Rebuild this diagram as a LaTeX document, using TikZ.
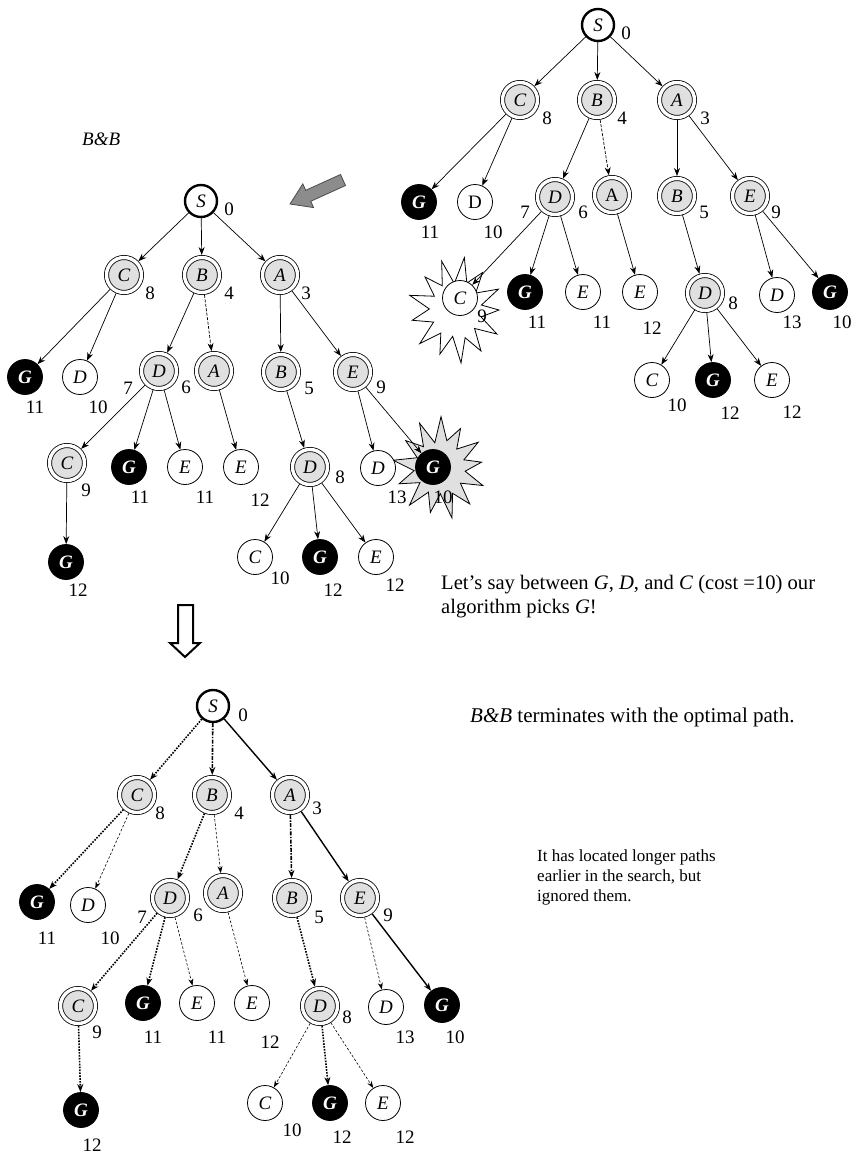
\documentclass[tikz,border=0pt]{standalone}
\usepackage{fontspec}
\setmainfont{Liberation Serif}
\usetikzlibrary{arrows.meta}
\begin{document}
\begin{tikzpicture}[x=1pt,y=-1pt,
  base/.style={circle,inner sep=0pt,minimum size=35pt,font=\fontsize{19}{19}\selectfont\itshape},
  wn/.style={base,draw,line width=0.8pt,fill=white},
  wnu/.style={wn,font=\fontsize{19}{19}\selectfont\upshape},
  bn/.style={base,draw,line width=0.8pt,fill=black,text=white,font=\fontsize{19}{19}\selectfont\bfseries\itshape},
  dn/.style={base,draw,line width=0.8pt,fill=black!12,double=white,double distance=3.4pt,minimum size=35pt,outer sep=2.5pt},
  dnu/.style={dn,font=\fontsize{19}{19}\selectfont\upshape},
  sn/.style={base,draw,line width=2.4pt,fill=white,minimum size=32pt},
  lab/.style={inner sep=0pt,font=\fontsize{19}{19}\selectfont},
  ed/.style={-{Stealth[length=8pt,width=6pt]},line width=0.7pt},
  edd/.style={ed,dash pattern=on 3pt off 1.5pt},
  thdot/.style={-{Stealth[length=8pt,width=6pt]},line width=1.6pt,dash pattern=on 1.6pt off 1.3pt},
  thdd/.style={-{Stealth[length=8pt,width=6pt]},line width=1.6pt,dash pattern=on 4pt off 1.4pt on 1.4pt off 1.4pt},
  thin/.style={-{Stealth[length=7pt,width=5pt]},line width=0.6pt,dash pattern=on 2.5pt off 1.8pt},
  thsol/.style={-{Stealth[length=8pt,width=6pt]},line width=1.4pt},
  txt/.style={inner sep=0pt,anchor=base west,font=\fontsize{20.6}{24}\selectfont},
  burst/.style={draw,line width=0.8pt,line join=miter}
]
\useasboundingbox (0,0) rectangle (856,1154);
\def\burstpath{(0:50) -- (14:30) -- (28:54) -- (42:29) -- (56:52) -- (70:31) -- (84:56) -- (98:28) -- (112:50) -- (126:30) -- (140:55) -- (154:29) -- (168:52) -- (182:31) -- (196:56) -- (210:29) -- (224:50) -- (238:30) -- (252:54) -- (266:28) -- (280:56) -- (294:31) -- (308:50) -- (322:29) -- (336:54) -- (350:30) -- cycle}

% ---------------- Tree 1 (top right) ----------------
\draw[burst,fill=white,shift={(456,310)},xscale=0.86,yscale=0.95] \burstpath;
\node[sn] (a S) at (598,25) {S};   \node[lab] (a l0) at (626,33) {0};
\node[dn] (a C) at (520,100) {C};  \node[lab] (a l8) at (547,118) {8};
\node[dn] (a B) at (597,100) {B};  \node[lab] (a l4) at (622,118) {4};
\node[dn] (a A) at (677,100) {A};  \node[lab] (a l3) at (705,118) {3};
\node[bn] (a G1) at (419,202) {G}; \node[lab] (a l11a) at (430,232) {11};
\node[wnu] (a D1) at (475,202) {D}; \node[lab] (a l10a) at (493,232) {10};
\node[dn] (a D2) at (555,197) {D}; \node[lab] (a l7) at (525,212) {7}; \node[lab] (a l6) at (583,212) {6};
\node[dnu] (a A2) at (612,195) {A};
\node[dn] (a B2) at (677,196) {B}; \node[lab] (a l5) at (704,212) {5};
\node[dn] (a E2) at (750,196) {E}; \node[lab] (a l9) at (776,212) {9};
\node[wn] (a C3) at (460,298) {C}; \node[lab] (a l9b) at (482,316) {9};
\node[bn] (a G3) at (525,292) {G}; \node[lab] (a l11b) at (537,322) {11};
\node[wn] (a E3) at (583,292) {E}; \node[lab] (a l11c) at (602,322) {11};
\node[wn] (a E4) at (640,292) {E}; \node[lab] (a l12a) at (652,328) {12};
\node[dn] (a D4) at (705,293) {D}; \node[lab] (a l8b) at (733,303) {8};
\node[wn] (a D5) at (777,295) {D}; \node[lab] (a l13) at (792,322) {13};
\node[bn] (a G5) at (830,292) {G}; \node[lab] (a l10b) at (842,322) {10};
\node[wn] (a C6) at (652,380) {C}; \node[lab] (a l10c) at (677,405) {10};
\node[bn] (a G6) at (713,380) {G}; \node[lab] (a l12b) at (730,413) {12};
\node[wn] (a E6) at (772,380) {E}; \node[lab] (a l12c) at (792,412) {12};
\draw[ed] (a S) -- (a C); \draw[ed] (a S) -- (a B); \draw[ed] (a S) -- (a A);
\draw[ed] (a C) -- (a G1); \draw[ed] (a C) -- (a D1);
\draw[ed] (a B) -- (a D2); \draw[edd] (a B) -- (a A2);
\draw[ed] (a A) -- (a B2); \draw[ed] (a A) -- (a E2);
\draw[ed] (a D2) -- (a C3); \draw[ed] (a D2) -- (a G3); \draw[ed] (a D2) -- (a E3);
\draw[ed] (a A2) -- (a E4); \draw[ed] (a B2) -- (a D4);
\draw[ed] (a E2) -- (a D5); \draw[ed] (a E2) -- (a G5);
\draw[ed] (a D4) -- (a C6); \draw[ed] (a D4) -- (a G6); \draw[ed] (a D4) -- (a E6);

% ---------------- arrows and texts ----------------
\filldraw[fill=black!45,draw=black!70,line width=0.8pt]
  (345.5,185.5) -- (340.5,174.5) -- (305.7,190.3) -- (302.8,183.9) -- (290,204)
  -- (313.6,207.6) -- (310.7,201.3) -- cycle;
\filldraw[fill=white,draw=black,line width=2pt]
  (178,605) -- (193,605) -- (193,643) -- (200,643) -- (185,657) -- (170,643) -- (178,643) -- cycle;
\node[txt,font=\fontsize{19}{19}\selectfont\itshape] (bbt) at (82,145) {B\&B};
\node[txt] (let1) at (441,589) {Let’s say between \textit{G}, \textit{D}, and \textit{C} (cost =10) our};
\node[txt] (let2) at (441,613) {algorithm picks \textit{G}!};
\node[txt,font=\fontsize{21}{24}\selectfont] (term) at (470,722) {\textit{B\&B} terminates with the optimal path.};
\node[txt,font=\fontsize{17}{20}\selectfont] (ign1) at (537,861) {It has located longer paths};
\node[txt,font=\fontsize{17}{20}\selectfont] (ign2) at (537,881) {earlier in the search, but};
\node[txt,font=\fontsize{17}{20}\selectfont] (ign3) at (537,901) {ignored them.};

% ---------------- Tree 2 (middle left) ----------------
\draw[burst,fill=black!12,shift={(440,468)},rotate=8,xscale=0.84,yscale=0.92] \burstpath;
\node[sn] (b S) at (201,201) {S};   \node[lab] (b l0) at (229,209) {0};
\node[dn] (b C) at (124,275) {C};  \node[lab] (b l8) at (150,293) {8};
\node[dn] (b B) at (202,275) {B};  \node[lab] (b l4) at (229,293) {4};
\node[dn] (b A) at (280,275) {A};  \node[lab] (b l3) at (306,293) {3};
\node[bn] (b G1) at (25,377) {G};  \node[lab] (b l11a) at (35,407) {11};
\node[wn] (b D1) at (80,377) {D};  \node[lab] (b l10a) at (98,407) {10};
\node[dn] (b D2) at (159,371) {D}; \node[lab] (b l7) at (128,388) {7}; \node[lab] (b l6) at (186,387) {6};
\node[dn] (b A2) at (214,371) {A};
\node[dn] (b B2) at (281,372) {B}; \node[lab] (b l5) at (309,388) {5};
\node[dn] (b E2) at (353,372) {E}; \node[lab] (b l9) at (381,387) {9};
\node[dn] (b C3) at (67,463) {C};  \node[lab] (b l9b) at (86,490) {9};
\node[bn] (b G3) at (129,467) {G}; \node[lab] (b l11b) at (140,497) {11};
\node[wn] (b E3) at (185,467) {E}; \node[lab] (b l11c) at (205,497) {11};
\node[wn] (b E4) at (241,467) {E}; \node[lab] (b l12a) at (260,500) {12};
\node[dn] (b D4) at (310,467) {D}; \node[lab] (b l8b) at (340,477) {8};
\node[wn] (b D5) at (378,468) {D}; \node[lab] (b l13) at (397,497) {13};
\node[bn] (b G5) at (433,467) {G}; \node[lab] (b l10b) at (443,497) {10};
\node[bn] (b G7) at (66,562) {G};  \node[lab] (b l12d) at (78,590) {12};
\node[wn] (b C6) at (255,557) {C}; \node[lab] (b l10c) at (280,578) {10};
\node[bn] (b G6) at (320,557) {G}; \node[lab] (b l12b) at (333,590) {12};
\node[wn] (b E6) at (376,557) {E}; \node[lab] (b l12c) at (395,585) {12};
\draw[ed] (b S) -- (b C); \draw[ed] (b S) -- (b B); \draw[ed] (b S) -- (b A);
\draw[ed] (b C) -- (b G1); \draw[ed] (b C) -- (b D1);
\draw[ed] (b B) -- (b D2); \draw[edd] (b B) -- (b A2);
\draw[ed] (b A) -- (b B2); \draw[ed] (b A) -- (b E2);
\draw[ed] (b D2) -- (b C3); \draw[ed] (b D2) -- (b G3); \draw[ed] (b D2) -- (b E3);
\draw[ed] (b A2) -- (b E4); \draw[ed] (b B2) -- (b D4);
\draw[ed] (b E2) -- (b D5); \draw[ed] (b E2) -- (b G5);
\draw[ed] (b C3) -- (b G7);
\draw[ed] (b D4) -- (b C6); \draw[ed] (b D4) -- (b G6); \draw[ed] (b D4) -- (b E6);

% ---------------- Tree 3 (bottom) ----------------
\node[sn] (c S) at (213,706) {S};   \node[lab] (c l0) at (243,715) {0};
\node[dn] (c C) at (137,795) {C};  \node[lab] (c l8) at (160,813) {8};
\node[dn] (c B) at (212,795) {B};  \node[lab] (c l4) at (239,813) {4};
\node[dn] (c A) at (290,795) {A};  \node[lab] (c l3) at (317,808) {3};
\node[bn] (c G1) at (37,902) {G};  \node[lab] (c l11a) at (47,938) {11};
\node[wn] (c D1) at (88,905) {D};  \node[lab] (c l10a) at (110,938) {10};
\node[dn] (c D2) at (170,898) {D}; \node[lab] (c l7) at (142,917) {7}; \node[lab] (c l6) at (198,915) {6};
\node[dn] (c A2) at (223,893) {A};
\node[dn] (c B2) at (292,898) {B}; \node[lab] (c l5) at (319,917) {5};
\node[dn] (c E2) at (360,898) {E}; \node[lab] (c l9) at (388,915) {9};
\node[dn] (c C3) at (78,1006) {C}; \node[lab] (c l9b) at (97,1032) {9};
\node[bn] (c G3) at (143,1003) {G}; \node[lab] (c l11b) at (153,1037) {11};
\node[wn] (c E3) at (197,1003) {E}; \node[lab] (c l11c) at (217,1037) {11};
\node[wn] (c E4) at (252,1003) {E}; \node[lab] (c l12a) at (270,1042) {12};
\node[dn] (c D4) at (320,1006) {D}; \node[lab] (c l8b) at (347,1017) {8};
\node[wn] (c D5) at (386,1007) {D}; \node[lab] (c l13) at (405,1037) {13};
\node[bn] (c G5) at (442,1005) {G}; \node[lab] (c l10b) at (455,1037) {10};
\node[bn] (c G7) at (81,1110) {G};  \node[lab] (c l12d) at (92,1145) {12};
\node[wn] (c C6) at (265,1103) {C}; \node[lab] (c l10c) at (292,1130) {10};
\node[bn] (c G6) at (330,1103) {G}; \node[lab] (c l12b) at (342,1137) {12};
\node[wn] (c E6) at (383,1103) {E}; \node[lab] (c l12c) at (405,1137) {12};
\draw[thdot] (c S) -- (c C); \draw[thdd] (c S) -- (c B); \draw[thsol] (c S) -- (c A);
\draw[thdot] (c C) -- (c G1); \draw[thin] (c C) -- (c D1);
\draw[thdot] (c B) -- (c D2); \draw[thin] (c B) -- (c A2);
\draw[thdd] (c A) -- (c B2); \draw[thsol] (c A) -- (c E2);
\draw[thdot] (c D2) -- (c C3); \draw[thdot] (c D2) -- (c G3); \draw[thin] (c D2) -- (c E3);
\draw[thin] (c A2) -- (c E4); \draw[thdot] (c B2) -- (c D4);
\draw[thin] (c E2) -- (c D5); \draw[thsol] (c E2) -- (c G5);
\draw[thdot] (c C3) -- (c G7);
\draw[thin] (c D4) -- (c C6); \draw[thdot] (c D4) -- (c G6); \draw[thin] (c D4) -- (c E6);
\end{tikzpicture}
\end{document}
